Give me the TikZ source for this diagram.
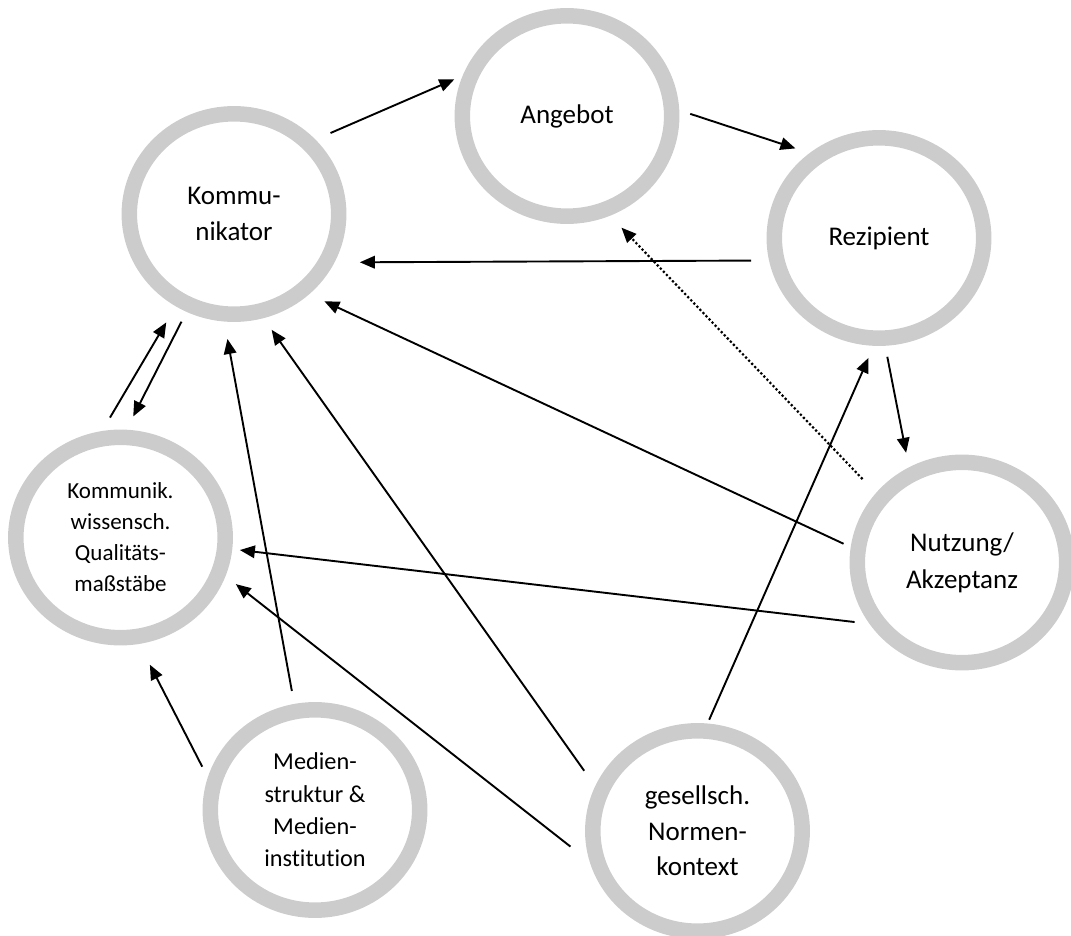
\documentclass[tikz,border=0pt]{standalone}
\usepackage{fontspec}
\setmainfont{Carlito}[Ligatures=NoCommon]
\usetikzlibrary{shapes.geometric,arrows.meta,calc}
\definecolor{ringgray}{HTML}{CCCCCC}
\begin{document}
\begin{tikzpicture}[x=1pt,y=-1pt,
  ring/.style={ellipse, draw=ringgray, line width=15.5pt, minimum width=209.4pt,
    minimum height=200.4pt, inner sep=0pt, align=center},
  bigtext/.style={font=\fontsize{27}{36.7}\selectfont},
  midtext/.style={font=\fontsize{24.3}{32.3}\selectfont},
  smalltext/.style={font=\fontsize{23}{31}\selectfont},
  arr/.style={line width=1.9pt, -{Triangle[length=15pt,width=12.5pt]}},
  dotarr/.style={arr, line width=2.2pt, dash pattern=on 2.2pt off 2.2pt}]
\useasboundingbox (0,0) rectangle (1071,936);
\node[ring,bigtext] (kom) at (234,214) {Kommu-\\nikator};
\node[ring,bigtext] (ang) at (567,116) {Angebot};
\node[ring,bigtext] (rez) at (879,238) {Rezipient};
\node[ring,bigtext] (nut) at (962,562.5) {Nutzung/\\Akzeptanz};
\node[ring,smalltext] (kw) at (120.5,537.5) {Kommunik.\\wissensch.\\Qualitäts-\\maßstäbe};
\node[ring,midtext] (med) at (315,810) {Medien-\\struktur \&\\ Medien-\\institution};
\node[ring,bigtext,font=\fontsize{27}{35.5}\selectfont] (ges) at (697.5,831) {gesellsch.\\Normen-\\kontext};
% connectors
\draw[arr] ($(kom.center)!1.140!(kom.40)$) -- ($(ang.center)!1.058!(ang.162)$);
\draw[arr] ($(ang.center)!1.096!(ang.1)$) -- ($(rez.center)!1.114!(rez.133)$);
\draw[arr] ($(rez.center)!1.157!(rez.190)$) -- ($(kom.center)!1.205!(kom.-21)$);
\draw[arr] ($(rez.center)!1.103!(rez.-86)$) -- ($(nut.center)!1.131!(nut.117)$);
\draw[dotarr] ($(nut.center)!1.175!(nut.140)$) -- ($(ang.center)!1.142!(ang.-64)$);
\draw[arr] ($(nut.center)!1.068!(nut.171)$) -- ($(kom.center)!1.140!(kom.-44)$);
\draw[arr] ($(nut.center)!1.103!(nut.209)$) -- ($(kw.center)!1.068!(kw.-6)$);
\draw[arr] ($(kw.center)!1.115!(kw.95)$) -- ($(kom.center)!1.171!(kom.238)$);
\draw[arr] ($(kom.center)!1.101!(kom.244)$) -- ($(kw.center)!1.127!(kw.84)$);
\draw[arr] ($(med.center)!1.122!(med.101)$) -- ($(kom.center)!1.159!(kom.-93)$);
\draw[arr] ($(med.center)!1.080!(med.159)$) -- ($(kw.center)!1.207!(kw.-77)$);
\draw[arr] ($(ges.center)!1.152!(ges.152)$) -- ($(kom.center)!1.124!(kom.-72)$);
\draw[arr] ($(ges.center)!1.139!(ges.187)$) -- ($(kw.center)!1.113!(kw.-22)$);
\draw[arr] ($(ges.center)!1.036!(ges.84)$) -- ($(rez.center)!1.114!(rez.-95)$);
\end{tikzpicture}
\end{document}
